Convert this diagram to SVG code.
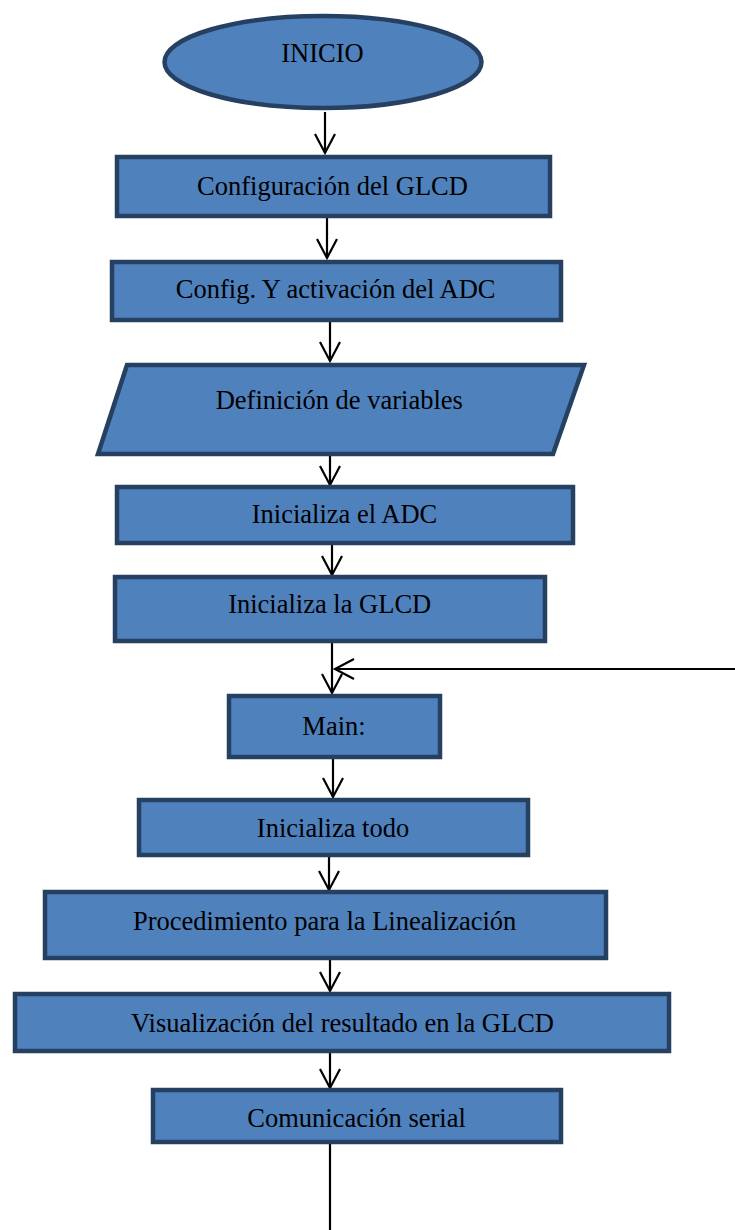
<svg xmlns="http://www.w3.org/2000/svg" width="735" height="1230" viewBox="0 0 735 1230">
<style>
.box{fill:#4F81BD;stroke:#264061;stroke-width:4.5}
.t{font-family:"Liberation Serif","Times New Roman",serif;font-size:26.5px;fill:#000;text-anchor:middle}
.c{stroke:#000;stroke-width:2.2;fill:none}
</style>
<defs>
<marker id="ah" markerUnits="userSpaceOnUse" viewBox="-22 -12 24 24" refX="0" refY="0" markerWidth="24" markerHeight="24" orient="auto" overflow="visible">
<path d="M-19,-10 L0,0 L-19,10" fill="none" stroke="#000" stroke-width="2.2"/>
</marker>
</defs>
<rect width="735" height="1230" fill="#fff"/>
<g id="connectors">
<line class="c" x1="325" y1="112" x2="325" y2="153" marker-end="url(#ah)"/>
<line class="c" x1="327" y1="218" x2="327" y2="258" marker-end="url(#ah)"/>
<line class="c" x1="330" y1="322" x2="330" y2="361" marker-end="url(#ah)"/>
<line class="c" x1="330" y1="456" x2="330" y2="485" marker-end="url(#ah)"/>
<line class="c" x1="332" y1="545" x2="332" y2="575" marker-end="url(#ah)"/>
<line class="c" x1="332" y1="643" x2="332" y2="693" marker-end="url(#ah)"/>
<line class="c" x1="735" y1="669" x2="335" y2="669" marker-end="url(#ah)"/>
<line class="c" x1="333" y1="759" x2="333" y2="797" marker-end="url(#ah)"/>
<line class="c" x1="329" y1="857" x2="329" y2="890" marker-end="url(#ah)"/>
<line class="c" x1="330" y1="960" x2="330" y2="991" marker-end="url(#ah)"/>
<line class="c" x1="330" y1="1053" x2="330" y2="1088" marker-end="url(#ah)"/>
<line class="c" x1="330" y1="1143" x2="330" y2="1230"/>
</g>
<g id="inicio">
<ellipse class="box" cx="323" cy="62" rx="158.5" ry="46"/>
<text class="t" x="322.5" y="62">INICIO</text>
</g>
<g id="config-glcd">
<rect class="box" x="117" y="157" width="433" height="59"/>
<text class="t" x="332.5" y="195">Configuración del GLCD</text>
</g>
<g id="config-adc">
<rect class="box" x="112" y="262" width="449" height="58"/>
<text class="t" x="335.7" y="298">Config. Y activación del ADC</text>
</g>
<g id="variables">
<polygon class="box" points="127,365 584,365 553,454 98,454"/>
<text class="t" x="339.3" y="409">Definición de variables</text>
</g>
<g id="init-adc">
<rect class="box" x="117" y="487" width="456" height="56"/>
<text class="t" x="344.5" y="523">Inicializa el ADC</text>
</g>
<g id="init-glcd">
<rect class="box" x="115" y="577" width="430" height="64"/>
<text class="t" x="329.7" y="613">Inicializa la GLCD</text>
</g>
<g id="main">
<rect class="box" x="229" y="696" width="211" height="61"/>
<text class="t" x="334" y="735">Main:</text>
</g>
<g id="init-todo">
<rect class="box" x="139" y="800" width="389" height="55"/>
<text class="t" x="333" y="837">Inicializa todo</text>
</g>
<g id="linealizacion">
<rect class="box" x="45" y="892" width="561" height="66"/>
<text class="t" x="324.7" y="930">Procedimiento para la Linealización</text>
</g>
<g id="visualizacion">
<rect class="box" x="15" y="994" width="654" height="57"/>
<text class="t" x="342.5" y="1031.5">Visualización del resultado en la GLCD</text>
</g>
<g id="serial">
<rect class="box" x="153" y="1090" width="408" height="52"/>
<text class="t" x="356.5" y="1127">Comunicación serial</text>
</g>
</svg>
